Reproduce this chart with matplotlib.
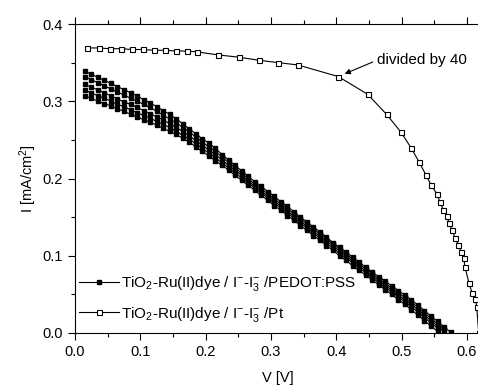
import matplotlib
matplotlib.use('Agg')
import matplotlib.pyplot as plt

plt.rcParams['font.family'] = ['Liberation Sans', 'DejaVu Sans']
plt.rcParams['mathtext.fontset'] = 'custom'
plt.rcParams['mathtext.rm'] = 'Liberation Sans'
plt.rcParams['mathtext.it'] = 'Liberation Sans:italic'

# voltage grid of the PEDOT:PSS scans
v_pedot = [0.015, 0.025, 0.035, 0.045, 0.055, 0.065, 0.075, 0.085, 0.095, 0.105,
           0.115, 0.125, 0.135, 0.145, 0.155, 0.165, 0.175, 0.185, 0.195, 0.205,
           0.215, 0.225, 0.235, 0.245, 0.255, 0.265, 0.275, 0.285, 0.295, 0.305,
           0.315, 0.325, 0.335, 0.345, 0.355, 0.365, 0.375, 0.385, 0.395, 0.405,
           0.415, 0.425, 0.435, 0.445, 0.455, 0.465, 0.475, 0.485, 0.495, 0.505,
           0.515, 0.525, 0.535, 0.545, 0.555, 0.565, 0.575]

i_pedot_1 = [0.339, 0.335, 0.331, 0.327, 0.323, 0.319, 0.315, 0.311, 0.307, 0.302,
             0.298, 0.293, 0.288, 0.283, 0.277, 0.271, 0.264, 0.258, 0.251, 0.246,
             0.239, 0.231, 0.224, 0.217, 0.210, 0.203, 0.196, 0.190, 0.183, 0.177,
             0.170, 0.164, 0.157, 0.150, 0.144, 0.137, 0.131, 0.124, 0.117, 0.111,
             0.105, 0.098, 0.092, 0.085, 0.079, 0.073, 0.067, 0.061, 0.055, 0.049,
             0.043, 0.036, 0.029, 0.022, 0.015, 0.008, 0.001]
i_pedot_2 = [0.332, 0.328, 0.324, 0.320, 0.316, 0.312, 0.308, 0.304, 0.300, 0.296,
             0.292, 0.287, 0.282, 0.277, 0.272, 0.266, 0.260, 0.254, 0.247, 0.241,
             0.235, 0.228, 0.221, 0.214, 0.207, 0.200, 0.193, 0.187, 0.180, 0.174,
             0.167, 0.161, 0.154, 0.148, 0.141, 0.135, 0.128, 0.122, 0.115, 0.109,
             0.102, 0.096, 0.089, 0.083, 0.077, 0.070, 0.064, 0.058, 0.052, 0.046,
             0.040, 0.033, 0.026, 0.019, 0.012, 0.005]
i_pedot_3 = [0.322, 0.318, 0.315, 0.311, 0.307, 0.303, 0.299, 0.296, 0.292, 0.288,
             0.284, 0.280, 0.276, 0.271, 0.266, 0.261, 0.255, 0.249, 0.243, 0.237,
             0.231, 0.224, 0.217, 0.211, 0.204, 0.197, 0.190, 0.184, 0.177, 0.171,
             0.164, 0.158, 0.151, 0.145, 0.138, 0.132, 0.125, 0.119, 0.113, 0.106,
             0.100, 0.093, 0.087, 0.080, 0.074, 0.068, 0.062, 0.055, 0.049, 0.043,
             0.037, 0.030, 0.023, 0.016, 0.009, 0.002]
i_pedot_4 = [0.314, 0.311, 0.307, 0.304, 0.300, 0.296, 0.293, 0.289, 0.285, 0.282,
             0.278, 0.274, 0.270, 0.266, 0.261, 0.256, 0.251, 0.245, 0.239, 0.233,
             0.227, 0.220, 0.214, 0.207, 0.201, 0.194, 0.188, 0.181, 0.175, 0.168,
             0.162, 0.155, 0.149, 0.142, 0.136, 0.129, 0.123, 0.116, 0.110, 0.103,
             0.097, 0.091, 0.084, 0.078, 0.072, 0.065, 0.059, 0.053, 0.047, 0.040,
             0.034, 0.027, 0.020, 0.013, 0.006]
i_pedot_5 = [0.307, 0.304, 0.300, 0.297, 0.294, 0.290, 0.287, 0.283, 0.280, 0.276,
             0.273, 0.269, 0.265, 0.261, 0.257, 0.252, 0.247, 0.241, 0.235, 0.229,
             0.223, 0.217, 0.211, 0.204, 0.198, 0.191, 0.185, 0.178, 0.172, 0.165,
             0.159, 0.152, 0.146, 0.139, 0.133, 0.126, 0.120, 0.113, 0.107, 0.100,
             0.094, 0.087, 0.081, 0.075, 0.069, 0.062, 0.056, 0.050, 0.043, 0.037,
             0.030, 0.023, 0.016, 0.009, 0.002]

# Pt counter electrode (current divided by 40)
v_pt = [0.018, 0.036, 0.053, 0.070, 0.087, 0.104, 0.121, 0.138, 0.155, 0.171,
        0.186, 0.219, 0.251, 0.282, 0.311, 0.341, 0.403, 0.448, 0.477, 0.499,
        0.515, 0.527, 0.537, 0.545, 0.554, 0.559, 0.564, 0.569, 0.573, 0.577,
        0.582, 0.587, 0.591, 0.595, 0.597, 0.603, 0.608, 0.613, 0.615, 0.618]
i_pt = [0.369, 0.369, 0.368, 0.368, 0.367, 0.367, 0.366, 0.366, 0.365, 0.365,
        0.364, 0.360, 0.357, 0.353, 0.350, 0.347, 0.332, 0.309, 0.283, 0.260,
        0.239, 0.221, 0.205, 0.192, 0.180, 0.169, 0.159, 0.151, 0.142, 0.133,
        0.123, 0.114, 0.105, 0.097, 0.086, 0.065, 0.052, 0.044, 0.034, 0.000]

label_pedot = r'TiO$_2$-Ru(II)dye / I$^{-}$-I$_3^{-}$ /PEDOT:PSS'
label_pt = r'TiO$_2$-Ru(II)dye / I$^{-}$-I$_3^{-}$ /Pt'

fig = plt.figure(figsize=(4.78, 3.90), dpi=100)
ax = fig.add_axes([75/478, 57/390, 405/478, 309/390])

pedot = [i_pedot_1, i_pedot_2, i_pedot_3, i_pedot_4, i_pedot_5]
for k, cur in enumerate(pedot):
    v = v_pedot[:len(cur)]
    ax.plot(v, cur, color='k', lw=0.8, marker='s', ms=3.2, mfc='k', mec='k',
            label=label_pedot if k == 0 else None)

ax.plot(v_pt, i_pt, color='k', lw=0.8, marker='s', ms=3.6, mfc='white', mec='k',
        mew=0.8, label=label_pt)

ax.annotate('divided by 40', xy=(0.403, 0.332), xytext=(0.462, 0.353),
            fontsize=11, ha='left', va='center', annotation_clip=False,
            arrowprops=dict(arrowstyle='-|>', color='k', lw=0.8,
                            mutation_scale=8, shrinkA=1, shrinkB=5,
                            relpos=(0, 0.5)))

ax.set_xlim(0, 0.62)
ax.set_ylim(0, 0.4)
ax.set_xticks([0.0, 0.1, 0.2, 0.3, 0.4, 0.5, 0.6])
ax.set_yticks([0.0, 0.1, 0.2, 0.3, 0.4])
ax.set_xticks([0.05, 0.15, 0.25, 0.35, 0.45, 0.55], minor=True)
ax.set_yticks([0.05, 0.15, 0.25, 0.35], minor=True)
ax.tick_params(which='both', direction='out', width=0.8, labelsize=10.5,
               top=True, right=False)
ax.tick_params(which='major', length=5)
ax.tick_params(which='minor', length=3)
ax.tick_params(axis='x', which='both', labeltop=False)
for s in ax.spines.values():
    s.set_linewidth(0.8)
ax.spines['right'].set_visible(False)

ax.set_xlabel('V [V]', fontsize=10.5, labelpad=9)
ax.set_ylabel(r'I [mA/cm$^2$]', fontsize=10.5, labelpad=3)

ax.legend(loc='lower left', bbox_to_anchor=(-0.012, 0.0), frameon=False,
          fontsize=11, handlelength=2.6, handletextpad=0.15, labelspacing=0.75,
          borderaxespad=0.2)

fig.savefig('out.png', dpi=100)
